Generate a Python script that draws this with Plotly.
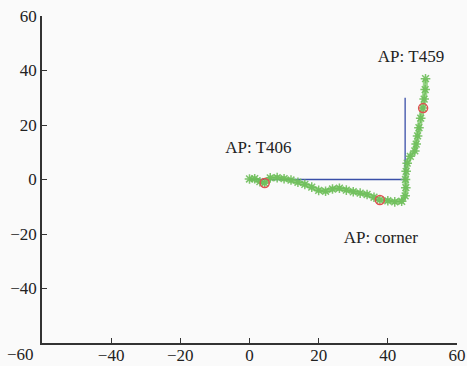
import plotly.graph_objects as go

# Trajectory (green)
traj_x = [0, 1.5, 3.0, 4.4, 6.0, 8.0, 10.0, 12.0, 14.0, 16.0, 18.0, 20.0, 22.0, 24.0, 26.0,
          28.0, 30.0, 32.0, 34.0, 36.0, 37.7, 40.0, 42.0, 44.0, 45.0, 45.2, 45.1, 45.3, 45.6,
          46.5, 47.8, 48.2, 48.6, 49.0, 49.5, 50.2, 50.5, 50.8, 50.9]
traj_y = [0.2, 0.3, -0.8, -1.3, 0.6, 0.7, 0.3, -0.2, -1.0, -1.8, -2.8, -4.0, -4.3, -3.5, -3.2,
          -3.9, -4.5, -5.0, -5.5, -6.5, -7.5, -7.8, -8.2, -8.0, -6.0, -3.0, 0.0, 3.0, 6.0,
          8.5, 10.5, 13.0, 16.0, 19.0, 22.5, 26.2, 29.5, 33.0, 37.0]

# Reference path (blue)
ref_x = [0, 45, 45]
ref_y = [0, 0, 30]

# Access points (red circles)
ap_x = [4.4, 37.7, 50.2]
ap_y = [-1.3, -7.5, 26.2]

# Labels
label_text = ["AP: T406", "AP: T459", "AP: corner"]
label_x = [2.6, 46.7, 38.0]
label_y = [11.2, 44.6, -21.8]

x_tick_vals = [-40, -20, 0, 20, 40, 60]
y_tick_vals = [-40, -20, 0, 20, 40, 60]
corner_label = "\u221260"

FONT = "Liberation Serif, Times New Roman, serif"

fig = go.Figure()
fig.add_trace(go.Scatter(x=ref_x, y=ref_y, mode="lines",
                         line=dict(color="#3a4fa8", width=1.3), showlegend=False))
fig.add_trace(go.Scatter(x=traj_x, y=traj_y, mode="lines+markers",
                         line=dict(color="rgba(120,200,100,0.75)", width=5),
                         marker=dict(symbol="asterisk-open", size=8,
                                     color="rgba(110,190,90,0.9)",
                                     line=dict(color="rgba(110,190,90,0.9)", width=1.5)),
                         showlegend=False))
fig.add_trace(go.Scatter(x=ap_x, y=ap_y, mode="markers",
                         marker=dict(symbol="circle-open", size=9, color="#e05050",
                                     line=dict(color="#e05050", width=1.5)),
                         showlegend=False))
fig.add_trace(go.Scatter(x=label_x, y=label_y, mode="text", text=label_text,
                         textfont=dict(family=FONT, size=17, color="#222"),
                         showlegend=False))

axis_common = dict(
    ticks="inside", ticklen=5, tickwidth=1.3, tickcolor="#333",
    showline=True, linecolor="#333", linewidth=1.5, showgrid=False, zeroline=False,
    tickfont=dict(family=FONT, size=17, color="#222"), mirror=False, automargin=False,
)
fig.update_xaxes(range=[-60, 60], tickvals=x_tick_vals, ticklabelstandoff=-4, **axis_common)
fig.update_yaxes(range=[-60, 60], tickvals=y_tick_vals, **axis_common)

fig.add_annotation(text=corner_label, xref="paper", yref="paper",
                   x=-0.051, y=-0.036, xanchor="center", yanchor="middle",
                   showarrow=False, font=dict(family=FONT, size=17, color="#222"))

fig.update_layout(
    width=467, height=366,
    margin=dict(l=42, r=10, t=16, b=23),
    plot_bgcolor="#fafafa", paper_bgcolor="#fafafa",
)

fig.write_html("out.html")
